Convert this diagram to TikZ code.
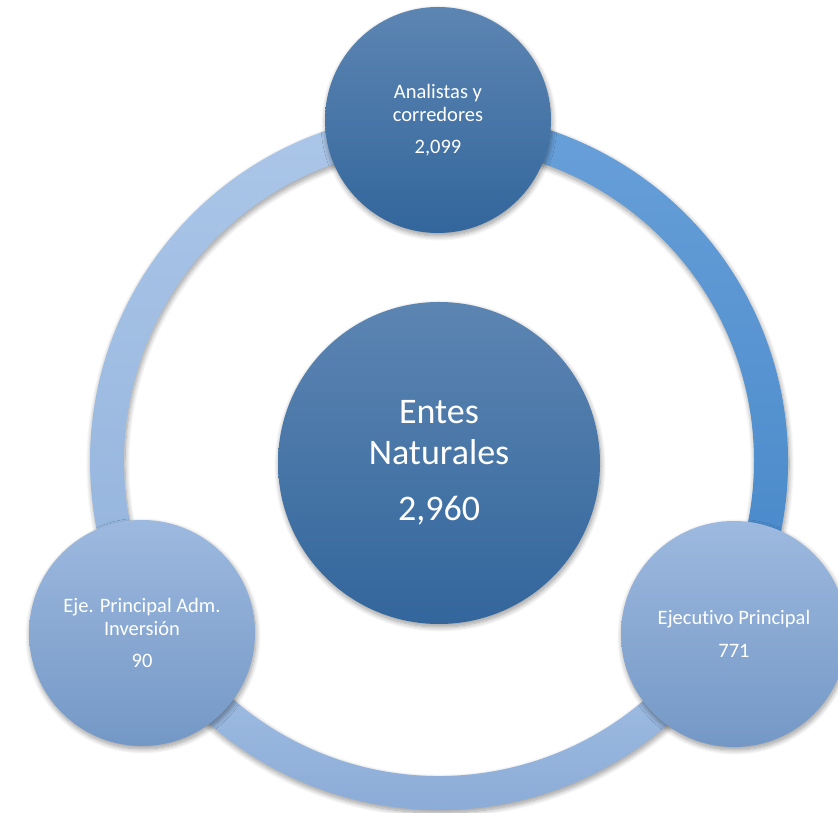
\documentclass[tikz,border=0pt]{standalone}
\usepackage{fontspec}
\setmainfont{Carlito}[Ligatures=NoCommon]
\usetikzlibrary{shadows.blur}
\definecolor{darktop}{HTML}{5C85B2}
\definecolor{darkbot}{HTML}{33669C}
\definecolor{lighttop}{HTML}{9DB9DF}
\definecolor{lightbot}{HTML}{7498C6}
\definecolor{tltop}{HTML}{ABC6E8}
\definecolor{tlbot}{HTML}{93B3DC}
\definecolor{rtop}{HTML}{68A0D9}
\definecolor{rbot}{HTML}{4586C8}
\definecolor{btop}{HTML}{A8C4E8}
\definecolor{bbot}{HTML}{84A6D3}
\begin{document}
\begin{tikzpicture}[x=1pt,y=1pt,
  softshadow/.style={blur shadow={shadow xshift=1pt, shadow yshift=-3pt,
      shadow blur radius=5pt, shadow blur steps=10, shadow opacity=40}},
  bubble/.style={circle, inner sep=0pt, align=center, text=white,
      shading=axis, shading angle=0, softshadow},
  darkbubble/.style={bubble, top color=darktop, bottom color=darkbot},
  lightbubble/.style={bubble, top color=lighttop, bottom color=lightbot},
  smalltext/.style={font=\fontsize{20.5}{23}\selectfont},
  bigtext/.style={font=\fontsize{36}{41}\selectfont},
  ringseg/.style={shading=axis, softshadow}]
\useasboundingbox (0,0) rectangle (838,813);
\coordinate (rc) at (439,352);
% ring segments
\begin{scope}[shift={(rc)}]
  \path[ringseg, top color=tltop, bottom color=tlbot]
    (90:349) arc[start angle=90, end angle=210, radius=349]
    -- (210:315) arc[start angle=210, end angle=90, radius=315] -- cycle;
  \path[ringseg, top color=rtop, bottom color=rbot]
    (-30:349) arc[start angle=-30, end angle=90, radius=349]
    -- (90:315) arc[start angle=90, end angle=-30, radius=315] -- cycle;
  \path[ringseg, top color=btop, bottom color=bbot]
    (210:349) arc[start angle=210, end angle=330, radius=349]
    -- (330:315) arc[start angle=330, end angle=210, radius=315] -- cycle;
\end{scope}
% circles
\node[darkbubble, bigtext, minimum size=322pt] (center) at (439,350)
  {Entes\\Naturales\\[15pt]2,960};
\node[darkbubble, smalltext, minimum size=226pt] (top) at (438,693)
  {Analistas y\\corredores\\[9pt]2,099};
\node[lightbubble, smalltext, minimum size=226pt] (left) at (142,180)
  {Eje. Principal Adm.\\Inversión\\[9pt]90};
\node[lightbubble, smalltext, minimum size=226pt] (right) at (734,179)
  {Ejecutivo Principal\\[10pt]771};
\end{tikzpicture}
\end{document}
